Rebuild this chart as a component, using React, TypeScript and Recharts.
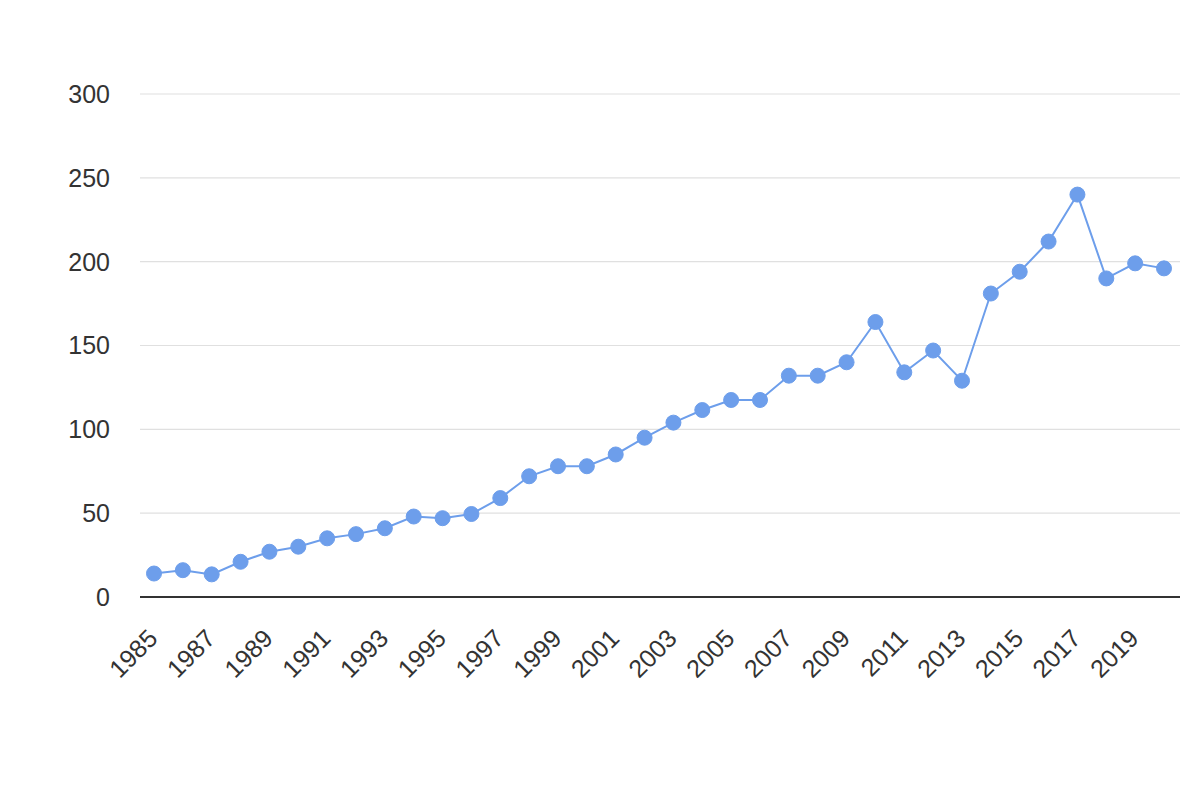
import { CartesianGrid, Line, LineChart, ReferenceLine, XAxis, YAxis } from 'recharts';

const years = [
  1985, 1986, 1987, 1988, 1989, 1990, 1991, 1992, 1993, 1994, 1995, 1996,
  1997, 1998, 1999, 2000, 2001, 2002, 2003, 2004, 2005, 2006, 2007, 2008,
  2009, 2010, 2011, 2012, 2013, 2014, 2015, 2016, 2017, 2018, 2019, 2020,
];

const values = [
  14, 16, 13.5, 21, 27, 30, 35, 37.5, 41, 48, 47, 49.5,
  59, 72, 78, 78, 85, 95, 104, 111.5, 117.5, 117.5, 132, 132,
  140, 164, 134, 147, 129, 181, 194, 212, 240, 190, 199, 196,
];

const yTicks = [0, 50, 100, 150, 200, 250, 300];
const xTicks = years.filter((y) => (y - 1985) % 2 === 0 && y < 2020);

const data = years.map((year, i) => ({ year, value: values[i] }));

const FONT = '"Liberation Sans", Arial, sans-serif';

function YearTick({ x, y, payload }: any) {
  return (
    <g transform={`translate(${x + 5},${y + 43})`}>
      <text
        transform="rotate(-45)"
        textAnchor="end"
        fontFamily={FONT}
        fontSize={25}
        fill="#333333"
      >
        {payload.value}
      </text>
    </g>
  );
}

export default function App() {
  return (
    <div style={{ position: 'absolute', left: 0, top: 0, width: 1200, height: 800, background: '#fff' }}>
      <LineChart width={1200} height={800} data={data} margin={{ top: 94, right: 20, bottom: 123, left: 0 }}>
        <CartesianGrid vertical={false} stroke="#e0e0e0" strokeWidth={1.2} />
        <XAxis
          dataKey="year"
          type="number"
          domain={[1985, 2020]}
          ticks={xTicks}
          interval={0}
          padding={{ left: 14, right: 16 }}
          axisLine={false}
          tickLine={false}
          tickSize={0}
          tickMargin={0}
          height={80}
          tick={<YearTick />}
        />
        <YAxis
          domain={[0, 300]}
          ticks={yTicks}
          width={140}
          axisLine={false}
          tickLine={false}
          tickSize={0}
          tickMargin={30}
          tick={{ fontFamily: FONT, fontSize: 25, fill: '#333333' }}
        />
        <ReferenceLine y={0} stroke="#333333" strokeWidth={2} />
        <Line
          dataKey="value"
          stroke="#6d9eeb"
          strokeWidth={2}
          dot={{ r: 7.5, fill: '#6d9eeb', stroke: '#6d9eeb', strokeWidth: 1 }}
          activeDot={false}
          isAnimationActive={false}
        />
      </LineChart>
    </div>
  );
}
